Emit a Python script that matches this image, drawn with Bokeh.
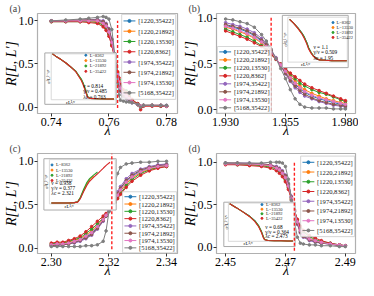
import math
from bokeh.plotting import figure
from bokeh.models import (Range1d, ColumnDataSource, FixedTicker, PrintfTickFormatter)
from bokeh.layouts import row, column
from bokeh.embed import file_html
from bokeh.resources import INLINE
from bokeh.core.properties import value

NAN = float("nan")
SERIF = "Liberation Serif"

LABELS = ["[1220,35422]", "[1220,21892]", "[1220,13530]", "[1220,8362]",
          "[1974,35422]", "[1974,21892]", "[1974,13530]", "[5168,35422]"]
COLORS = ["#1f77b4", "#ff7f0e", "#2ca02c", "#d62728",
          "#9467bd", "#8c564b", "#e377c2", "#7f7f7f"]
INSET_L = ["L=8362", "L=13530", "L=21892", "L=35422"]
INSET_COLORS = ["#1f77b4", "#ff7f0e", "#2ca02c", "#d62728"]

# ---------------- panel (a) ----------------
A_LAM = [0.740, 0.745, 0.750, 0.753, 0.756, 0.758, 0.759, 0.760, 0.761, 0.762, 0.7625, 0.763,
         0.7635, 0.764, 0.765, 0.766, 0.767, 0.768, 0.770, 0.771, 0.772, 0.775, 0.778, 0.780]
A_R = {
    "[1220,35422]": [1.00, 1.00, 1.00, 1.01, 1.00, 0.98, 0.95, 0.88, 0.76, 0.58, 0.48, 0.37, 0.28, 0.20, 0.14, 0.12, 0.09, 0.06, 0.03, 0.01, 0.02, 0.02, 0.02, 0.01],
    "[1220,21892]": [1.00, 1.00, 1.00, 1.00, 0.99, 0.96, 0.93, 0.86, 0.74, 0.58, 0.49, 0.39, 0.30, 0.23, 0.17, 0.14, 0.11, 0.07, 0.03, 0.01, 0.02, 0.02, 0.02, 0.01],
    "[1220,13530]": [0.99, 0.99, 0.99, 0.99, 0.98, 0.95, 0.91, 0.84, 0.72, 0.57, 0.49, 0.40, 0.32, 0.25, 0.19, 0.19, 0.13, 0.08, 0.04, 0.00, 0.02, 0.02, 0.01, 0.01],
    "[1220,8362]":  [0.99, 0.99, 0.99, 0.98, 0.97, 0.93, 0.89, 0.82, 0.71, 0.57, 0.49, 0.41, 0.34, 0.27, 0.20, 0.17, 0.12, 0.09, 0.04, -0.03, 0.01, 0.01, 0.01, 0.01],
    "[1974,35422]": [1.00, 1.00, 1.01, 1.01, 1.02, 1.00, 0.97, 0.91, 0.79, 0.59, 0.47, 0.35, 0.25, 0.18, 0.12, 0.10, 0.08, 0.05, 0.03, 0.01, 0.02, 0.02, 0.02, 0.02],
    "[1974,21892]": [1.00, 1.00, 1.01, 1.01, 1.01, 0.99, 0.96, 0.90, 0.78, 0.59, 0.48, 0.36, 0.26, 0.19, 0.13, 0.11, 0.09, 0.06, 0.03, 0.01, 0.02, 0.02, 0.02, 0.01],
    "[1974,13530]": [1.00, 1.00, 1.00, 1.00, 1.00, 0.97, 0.94, 0.87, 0.75, 0.58, 0.48, 0.38, 0.29, 0.22, 0.16, 0.13, 0.10, 0.06, 0.03, 0.01, 0.02, 0.02, 0.02, 0.01],
    "[5168,35422]": [1.00, 1.01, 1.02, 1.03, 1.04, 1.05, 1.04, 1.02, 0.90, 0.62, 0.46, 0.28, 0.14, 0.08, 0.07, 0.06, 0.06, 0.05, 0.03, 0.00, 0.02, 0.02, 0.02, 0.02],
}
A_XTICKS = [0.74, 0.76, 0.78]
A_LAMC = 0.763
A_PARAMS = ["ν = 0.814", "γ/ν = 0.485", "λc = 0.763"]
INSET_A_X = [0.02, 0.09, 0.16, 0.23, 0.30, 0.38, 0.42, 0.47, 0.50, 0.53, 0.55, 0.57, 0.60, 0.73, 0.90, 0.98]
INSET_A = {
    "L=8362":  [1.00, 0.93, 0.87, 0.80, 0.72, 0.62, 0.54, 0.44, 0.35, 0.23, 0.14, 0.06, 0.03, 0.02, 0.015, 0.015],
    "L=13530": [1.00, 0.93, 0.87, 0.80, 0.72, 0.62, 0.54, 0.43, 0.34, 0.22, 0.13, 0.06, 0.03, 0.02, 0.015, 0.015],
    "L=21892": [1.00, 0.93, 0.87, 0.80, 0.72, 0.63, 0.55, 0.45, 0.36, 0.24, 0.15, 0.07, 0.03, 0.02, 0.015, 0.015],
    "L=35422": [1.00, 0.93, 0.87, 0.80, 0.72, 0.62, 0.53, 0.42, 0.32, 0.20, 0.12, 0.05, 0.03, 0.02, 0.015, 0.015],
}

# ---------------- panel (b) ----------------
B_LAM = [1.930, 1.933, 1.936, 1.939, 1.942, 1.945, 1.947, 1.949, 1.951, 1.953, 1.955,
         1.957, 1.959, 1.961, 1.963, 1.966, 1.969, 1.972, 1.975, 1.978, 1.980]
B_R = {
    "[1220,35422]": [0.92, 0.90, 0.88, 0.85, 0.81, 0.75, 0.70, 0.64, 0.56, 0.48, 0.41, 0.34, 0.28, 0.23, 0.19, 0.15, 0.12, 0.10, 0.08, 0.06, 0.05],
    "[1220,21892]": [0.90, 0.88, 0.85, 0.82, 0.78, 0.73, 0.68, 0.62, 0.56, 0.49, 0.43, 0.37, 0.31, 0.26, 0.22, 0.18, 0.15, 0.12, 0.10, 0.08, 0.07],
    "[1220,13530]": [0.88, 0.85, 0.82, 0.79, 0.75, 0.70, 0.66, 0.61, 0.55, 0.50, 0.44, 0.39, 0.34, 0.29, 0.26, 0.22, 0.19, 0.17, 0.14, 0.11, 0.09],
    "[1220,8362]":  [0.86, 0.83, 0.80, 0.77, 0.73, 0.69, 0.65, 0.60, 0.55, 0.50, 0.45, 0.40, 0.36, 0.32, 0.28, 0.24, 0.21, 0.18, 0.15, 0.12, 0.10],
    "[1974,35422]": [0.95, 0.93, 0.91, 0.88, 0.84, 0.78, 0.72, 0.65, 0.57, 0.48, 0.39, 0.31, 0.24, 0.19, 0.15, 0.12, 0.09, 0.07, 0.05, 0.04, 0.03],
    "[1974,21892]": [0.93, 0.91, 0.89, 0.86, 0.82, 0.76, 0.71, 0.64, 0.56, 0.48, 0.40, 0.32, 0.26, 0.21, 0.17, 0.13, 0.10, 0.08, 0.06, 0.05, 0.04],
    "[1974,13530]": [0.91, 0.89, 0.86, 0.83, 0.79, 0.74, 0.69, 0.63, 0.56, 0.49, 0.42, 0.35, 0.29, 0.24, 0.20, 0.16, 0.13, 0.11, 0.09, 0.07, 0.06],
    "[5168,35422]": [0.99, 0.98, 0.96, 0.94, 0.90, 0.82, 0.75, 0.66, 0.56, 0.45, 0.34, 0.22, 0.12, 0.06, 0.03, 0.02, 0.02, 0.02, 0.01, 0.01, 0.01],
}
B_XTICKS = [1.930, 1.955, 1.980]
B_LAMC = 1.949
B_PARAMS = ["ν = 1.1", "γ/ν = 0.509", "λc = 1.95"]
INSET_B_X = [0.03, 0.10, 0.17, 0.24, 0.28, 0.32, 0.35, 0.39, 0.43, 0.48, 0.53, 0.63, 0.74, 0.86, 0.99]
INSET_B = {
    "L=8362":  [0.95, 0.86, 0.76, 0.64, 0.55, 0.43, 0.32, 0.22, 0.14, 0.08, 0.05, 0.04, 0.03, 0.03, 0.03],
    "L=13530": [0.95, 0.86, 0.75, 0.63, 0.54, 0.42, 0.31, 0.21, 0.13, 0.08, 0.05, 0.04, 0.03, 0.03, 0.03],
    "L=21892": [0.95, 0.86, 0.76, 0.64, 0.55, 0.43, 0.32, 0.22, 0.14, 0.09, 0.05, 0.04, 0.03, 0.03, 0.03],
    "L=35422": [0.95, 0.86, 0.75, 0.62, 0.52, 0.40, 0.29, 0.20, 0.13, 0.08, 0.05, 0.04, 0.03, 0.03, 0.03],
}

# ---------------- panel (c) ----------------
C_LAM = [2.300, 2.302, 2.304, 2.306, 2.308, 2.310, 2.312, 2.314, 2.316, 2.318, 2.319,
         2.320, 2.321, 2.322, 2.323, 2.324, 2.326, 2.328, 2.331, 2.334, 2.337, 2.340]
C_R = {
    "[1220,35422]": [0.04, 0.04, 0.05, 0.06, 0.07, 0.09, 0.13, 0.17, 0.24, 0.32, 0.37, 0.43, 0.49, 0.56, 0.62, 0.68, 0.77, 0.83, 0.89, 0.92, 0.95, 0.96],
    "[1220,21892]": [0.04, 0.05, 0.06, 0.07, 0.09, 0.11, 0.15, 0.20, 0.26, 0.34, 0.38, 0.43, 0.48, 0.54, 0.60, 0.66, 0.74, 0.81, 0.87, 0.91, 0.93, 0.95],
    "[1220,13530]": [0.05, 0.06, 0.06, 0.08, 0.10, 0.12, 0.17, 0.22, 0.28, 0.35, 0.39, 0.43, 0.48, 0.53, 0.58, 0.63, 0.72, 0.79, 0.86, 0.90, 0.93, 0.94],
    "[1220,8362]":  [0.06, 0.07, 0.07, 0.09, 0.11, 0.14, 0.19, 0.25, 0.31, 0.37, 0.40, 0.44, 0.48, 0.52, 0.57, 0.62, 0.70, 0.77, 0.84, 0.89, 0.92, 0.94],
    "[1974,35422]": [0.03, 0.03, 0.04, 0.05, 0.06, 0.08, 0.11, 0.15, 0.22, 0.31, 0.37, 0.43, 0.50, 0.58, 0.65, 0.71, 0.80, 0.86, 0.91, 0.94, 0.96, 0.97],
    "[1974,21892]": [0.03, 0.04, 0.04, 0.05, 0.07, 0.09, 0.12, 0.16, 0.23, 0.32, 0.37, 0.43, 0.50, 0.57, 0.63, 0.69, 0.78, 0.84, 0.90, 0.93, 0.95, 0.96],
    "[1974,13530]": [0.04, 0.05, 0.05, 0.06, 0.08, 0.10, 0.14, 0.18, 0.25, 0.33, 0.38, 0.43, 0.49, 0.55, 0.61, 0.67, 0.76, 0.82, 0.88, 0.92, 0.94, 0.95],
    "[5168,35422]": [0.02, 0.02, 0.02, 0.02, 0.02, 0.02, 0.03, 0.03, 0.04, 0.08, 0.20, 0.42, 0.60, 0.74, 0.86, 0.93, 0.97, 0.98, 0.99, 0.99, 1.00, 1.00],
}
C_XTICKS = [2.30, 2.32, 2.34]
C_LAMC = 2.321
C_PARAMS = ["ν = 0.938", "γ/ν = 0.377", "λc = 2.321"]
INSET_C_X = [0.03, 0.10, 0.20, 0.30, 0.38, 0.43, 0.47, 0.52, 0.57, 0.61, 0.67, 0.73, 0.78, 0.82, 0.87, 0.92]
INSET_C = {
    "L=8362":  [0.02, 0.02, 0.02, 0.02, 0.03, 0.05, 0.13, 0.30, 0.45, 0.54, NAN, NAN, NAN, NAN, NAN, NAN],
    "L=13530": [0.02, 0.02, 0.02, 0.02, 0.03, 0.05, 0.14, 0.31, 0.46, 0.55, 0.63, NAN, NAN, NAN, NAN, NAN],
    "L=21892": [0.02, 0.02, 0.02, 0.02, 0.03, 0.05, 0.15, 0.33, 0.49, 0.57, 0.65, 0.72, NAN, NAN, NAN, NAN],
    "L=35422": [0.02, 0.02, 0.02, 0.02, 0.03, 0.04, 0.12, 0.28, 0.42, 0.51, 0.60, 0.68, 0.75, 0.81, 0.88, 0.94],
}

# ---------------- panel (d) ----------------
D_LAM = [2.450, 2.454, 2.458, 2.462, 2.465, 2.467, 2.468, 2.469, 2.470, 2.471, 2.472,
         2.473, 2.474, 2.475, 2.476, 2.478, 2.480, 2.482, 2.485, 2.488, 2.490]
D_R = {
    "[1220,35422]": [0.99, 0.98, 0.98, 0.97, 0.96, 0.94, 0.92, 0.88, 0.83, 0.73, 0.59, 0.43, 0.29, 0.19, 0.14, 0.10, 0.07, 0.05, 0.04, 0.03, 0.02],
    "[1220,21892]": [0.98, 0.98, 0.97, 0.97, 0.95, 0.93, 0.90, 0.86, 0.81, 0.71, 0.58, 0.43, 0.31, 0.21, 0.16, 0.11, 0.08, 0.06, 0.04, 0.03, 0.02],
    "[1220,13530]": [0.98, 0.97, 0.97, 0.96, 0.94, 0.92, 0.89, 0.85, 0.79, 0.70, 0.57, 0.44, 0.32, 0.23, 0.18, 0.13, 0.09, 0.07, 0.05, 0.03, 0.02],
    "[1220,8362]":  [0.97, 0.97, 0.96, 0.95, 0.93, 0.90, 0.87, 0.83, 0.77, 0.68, 0.56, 0.44, 0.33, 0.25, 0.20, 0.14, 0.11, 0.08, 0.05, 0.03, 0.02],
    "[1974,35422]": [0.99, 0.99, 0.99, 0.98, 0.97, 0.95, 0.93, 0.90, 0.85, 0.75, 0.60, 0.42, 0.27, 0.17, 0.12, 0.08, 0.06, 0.05, 0.04, 0.02, 0.02],
    "[1974,21892]": [0.99, 0.99, 0.98, 0.98, 0.97, 0.94, 0.92, 0.89, 0.84, 0.74, 0.59, 0.42, 0.28, 0.18, 0.13, 0.09, 0.07, 0.05, 0.04, 0.02, 0.02],
    "[1974,13530]": [0.98, 0.98, 0.98, 0.97, 0.96, 0.93, 0.91, 0.87, 0.82, 0.72, 0.58, 0.43, 0.30, 0.20, 0.15, 0.10, 0.08, 0.06, 0.04, 0.03, 0.02],
    "[5168,35422]": [0.99, 0.99, 0.99, 0.99, 1.00, 1.00, 1.00, 0.99, 0.95, 0.80, 0.55, 0.30, 0.12, 0.05, 0.04, 0.03, 0.03, 0.02, 0.02, 0.01, 0.01],
}
D_XTICKS = [2.45, 2.47, 2.49]
D_LAMC = 2.473
D_PARAMS = ["ν = 0.68", "γ/ν = 0.364", "λc = 2.473"]
INSET_D_X = [0.02, 0.12, 0.22, 0.32, 0.40, 0.46, 0.50, 0.53, 0.55, 0.60, 0.70, 0.80, 0.90, 0.98]
INSET_D = {
    "L=8362":  [0.98, 0.88, 0.77, 0.66, 0.54, 0.40, 0.26, 0.12, 0.05, 0.02, 0.015, 0.015, 0.01, 0.01],
    "L=13530": [0.98, 0.88, 0.77, 0.65, 0.53, 0.39, 0.25, 0.11, 0.05, 0.02, 0.015, 0.015, 0.01, 0.01],
    "L=21892": [0.98, 0.88, 0.77, 0.66, 0.54, 0.41, 0.27, 0.13, 0.05, 0.02, 0.015, 0.015, 0.01, 0.01],
    "L=35422": [0.98, 0.88, 0.77, 0.65, 0.52, 0.38, 0.24, 0.10, 0.04, 0.02, 0.015, 0.015, 0.01, 0.01],
}

Y_TICKS = [0.0, 0.5, 1.0]
INSET_YLABEL = "σ²L¹⁻ᵞ/ᵛ"
INSET_XLABEL = "εL¹/ᵛ"

W, H = 179, 140


def make_panel(tag, lam, curves, xr, yr, xticks, xfmt, lamc, vline_y, leg_box, borders,
               frame_px, inner_px, outer_px, ins_x, ins_y, params, par_xy, leg_xy, xlab_x):
    bl, br, bt, bb = borders
    fx0, fx1, fy0, fy1 = frame_px
    ix0, ix1, iy0, iy1 = inner_px
    ox0, ox1, oy0, oy1 = outer_px
    iw, ih = ix1 - ix0, iy1 - iy0
    p = figure(width=W, height=H, output_backend="svg", toolbar_location=None,
               x_range=Range1d(*xr), y_range=Range1d(*yr),
               min_border_left=bl, min_border_right=br,
               min_border_top=bt, min_border_bottom=bb)
    # normalised inset coordinates, and a pixel-like layout coordinate system for the legend
    p.extra_x_ranges = {"ins": Range1d(-(ix0 - fx0) / iw, 1 + (fx1 - ix1) / iw),
                        "px": Range1d(fx0, fx1)}
    p.extra_y_ranges = {"ins": Range1d(-(fy1 - iy1) / ih, 1 + (iy0 - fy0) / ih),
                        "px": Range1d(fy1, fy0)}
    p.background_fill_color = "white"
    p.border_fill_color = "white"
    p.outline_line_color = "#b0b0b0"
    p.outline_line_width = 1.2
    p.grid.visible = False

    p.title.text = tag
    p.title.align = "left"
    p.title.offset = -(bl - 3)
    p.title.standoff = 0
    p.title.text_font = SERIF
    p.title.text_font_style = "normal"
    p.title.text_font_size = "10px"
    p.title.text_line_height = 1.0

    for ax, ticks, fmt, lab in ((p.xaxis, xticks, xfmt, "λ"), (p.yaxis, Y_TICKS, "%.1f", "R[L, L′]")):
        ax.ticker = FixedTicker(ticks=ticks, minor_ticks=[])
        ax.formatter = PrintfTickFormatter(format=fmt)
        ax.axis_label = lab
        ax.axis_line_color = None
        ax.major_tick_line_color = "#333333"
        ax.major_tick_in = 0
        ax.major_tick_out = 3
        ax.minor_tick_line_color = None
        ax.major_label_text_font = SERIF
        ax.major_label_text_font_size = "12px"
        ax.major_label_text_color = "black"
        ax.axis_label_text_font = SERIF
        ax.axis_label_text_font_size = "14px"
        ax.axis_label_text_font_style = "italic"
        ax.axis_label_text_color = "black"
        ax.major_label_standoff = 1
    p.xaxis.axis_label_standoff = -6
    p.yaxis.axis_label_standoff = -3

    for lab, col in zip(LABELS, COLORS):
        src = ColumnDataSource(dict(x=lam, y=curves[lab]))
        p.line("x", "y", source=src, line_color=col, line_width=1.0)
        p.scatter("x", "y", source=src, size=2.6, color=col, marker="circle")

    # inset
    kw = dict(x_range_name="ins", y_range_name="ins")
    ol, orr = (ox0 - ix0) / iw, (ox1 - ix0) / iw
    ot, ob = (iy1 - oy0) / ih, (iy1 - oy1) / ih
    p.quad(left=[ol], right=[orr], top=[ot], bottom=[ob], fill_color="white",
           line_color="#aaaaaa", line_width=1.0, **kw)
    p.quad(left=[0], right=[1], top=[1], bottom=[0], fill_color=None,
           line_color="#cfcfcf", line_width=0.8, **kw)
    for lab, col in zip(INSET_L, INSET_COLORS):
        p.line(ins_x, ins_y[lab], line_color=col, line_width=1.1, **kw)
    lx, ly0, ldy = leg_xy
    for i, (lab, col) in enumerate(zip(INSET_L, INSET_COLORS)):
        p.scatter([lx], [ly0 - i * ldy], size=2.0, color=col, marker="circle", **kw)
        p.text([lx + 0.06], [ly0 - i * ldy], text=[lab], text_font=value(SERIF),
               text_font_size=value("4.5px"), text_baseline="middle", text_color="#222222", **kw)
    px_, py0, pdy = par_xy
    for i, t in enumerate(params):
        p.text([px_], [py0 - i * pdy], text=[t], text_font=value(SERIF),
               text_font_size=value("5.3px"), text_baseline="middle", text_color="black", **kw)
    p.text([ol / 2], [0.5], text=[INSET_YLABEL], angle=math.pi / 2, text_font=value(SERIF),
           text_font_size=value("4.8px"), text_align="center", text_baseline="middle",
           text_color="black", **kw)
    p.text([xlab_x], [ob / 2], text=[INSET_XLABEL], text_font=value(SERIF),
           text_font_size=value("4.8px"), text_align="center", text_baseline="middle",
           text_color="black", **kw)

    # critical point marker
    p.segment(x0=[lamc], y0=[vline_y[0]], x1=[lamc], y1=[vline_y[1]], line_color="#ff2020",
              line_width=1.4, line_dash="3 2")

    # legend (built from glyphs, in layout pixel coordinates of the panel)
    kp = dict(x_range_name="px", y_range_name="px")
    bx0, by0, row_h = leg_box
    bx1 = bx0 + 59
    by1 = by0 + 8 * row_h + 3
    p.quad(left=[bx0], right=[bx1], top=[by0], bottom=[by1], fill_color="white",
           fill_alpha=0.85, line_color="#cccccc", line_width=0.8, **kp)
    for i, (lab, col) in enumerate(zip(LABELS, COLORS)):
        yy = by0 + 1.5 + (i + 0.5) * row_h
        p.segment(x0=[bx0 + 2], y0=[yy], x1=[bx0 + 15], y1=[yy], line_color=col,
                  line_width=1.0, **kp)
        p.scatter([bx0 + 8.5], [yy], size=3.0, color=col, marker="circle", **kp)
        p.text([bx0 + 18], [yy], text=[lab], text_font=value(SERIF),
               text_font_size=value("6.6px"), text_baseline="middle",
               text_color="#222222", **kp)
    return p


pa = make_panel("(a)", A_LAM, A_R, (0.7352, 0.7838), (-0.074, 1.085), A_XTICKS, "%.2f",
                A_LAMC, (-0.01, 1.0), (124, 13, 11.2), (31, 2, 11, 26),
                (32, 185, 12, 121), (47, 117, 56, 106), (40, 118, 55, 111),
                INSET_A_X, INSET_A, A_PARAMS, (0.50, 0.31, 0.12), (0.54, 0.97, 0.117), 0.3)
pb = make_panel("(b)", B_LAM, B_R, (1.9262, 1.9842), (-0.04, 1.05), B_XTICKS, "%.3f",
                B_LAMC, (-0.01, 1.02), (33, 48, 8.7), (31, 3, 11, 26),
                (32, 184, 12, 121), (110, 175, 16, 65), (104, 176, 14, 71),
                INSET_B_X, INSET_B, B_PARAMS, (0.43, 0.34, 0.125), (0.76, 0.88, 0.11), 0.3)
pc = make_panel("(c)", C_LAM, C_R, (2.2952, 2.3438), (-0.06, 1.09), C_XTICKS, "%.2f",
                C_LAMC, (-0.01, 1.09), (125, 54, 8.4), (31, 2, 9, 22),
                (32, 185, 10, 125), (45, 117, 17, 68), (39, 118, 16, 75),
                INSET_C_X, INSET_C, C_PARAMS, (0.03, 0.48, 0.12), (0.04, 0.88, 0.117), 0.3)
pd = make_panel("(d)", D_LAM, D_R, (2.4470, 2.4934), (-0.071, 1.102), D_XTICKS, "%.2f",
                D_LAMC, (-0.04, 1.0), (124, 13, 11.2), (31, 3, 9, 22),
                (32, 184, 10, 125), (45, 117, 67, 111), (40, 118, 66, 117),
                INSET_D_X, INSET_D, D_PARAMS, (0.56, 0.37, 0.12), (0.51, 0.96, 0.12), 0.3)

layout = column(row(pa, pb), row(pc, pd))
open("out.html", "w").write(file_html(layout, INLINE))
